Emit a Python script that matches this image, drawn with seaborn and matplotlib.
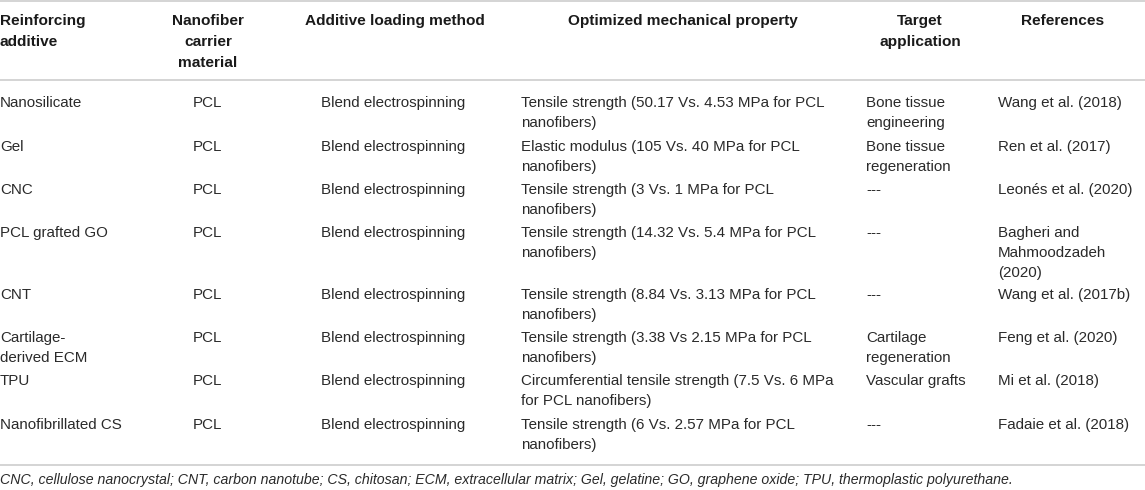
import matplotlib
matplotlib.use("Agg")
import matplotlib.pyplot as plt
import seaborn as sns

sns.set_theme(style="white")
plt.rcParams['font.family'] = ['Liberation Sans', 'DejaVu Sans']

headers = ["Reinforcing\nadditive", "Nanofiber\ncarrier\nmaterial", "Additive loading method",
           "Optimized mechanical property", "Target\napplication", "References"]

additives = ["Nanosilicate", "Gel", "CNC", "PCL grafted GO", "CNT",
             "Cartilage-\nderived ECM", "TPU", "Nanofibrillated CS"]
carriers = ["PCL"] * 8
methods = ["Blend electrospinning"] * 8
properties = [
    "Tensile strength (50.17 Vs. 4.53 MPa for PCL\nnanofibers)",
    "Elastic modulus (105 Vs. 40 MPa for PCL\nnanofibers)",
    "Tensile strength (3 Vs. 1 MPa for PCL\nnanofibers)",
    "Tensile strength (14.32 Vs. 5.4 MPa for PCL\nnanofibers)",
    "Tensile strength (8.84 Vs. 3.13 MPa for PCL\nnanofibers)",
    "Tensile strength (3.38 Vs 2.15 MPa for PCL\nnanofibers)",
    "Circumferential tensile strength (7.5 Vs. 6 MPa\nfor PCL nanofibers)",
    "Tensile strength (6 Vs. 2.57 MPa for PCL\nnanofibers)",
]
applications = ["Bone tissue\nengineering", "Bone tissue\nregeneration", "---", "---", "---",
                "Cartilage\nregeneration", "Vascular grafts", "---"]
references = ["Wang et al. (2018)", "Ren et al. (2017)", "Leonés et al. (2020)",
              "Bagheri and\nMahmoodzadeh\n(2020)", "Wang et al. (2017b)", "Feng et al. (2020)",
              "Mi et al. (2018)", "Fadaie et al. (2018)"]
footnote = ("CNC, cellulose nanocrystal; CNT, carbon nanotube; CS, chitosan; ECM, extracellular matrix; "
            "Gel, gelatine; GO, graphene oxide; TPU, thermoplastic polyurethane.")

W, H = 1145, 490
fig = plt.figure(figsize=(W / 100, H / 100), dpi=100)
ax = fig.add_axes([0, 0, 1, 1])
ax.set_xlim(0, W)
ax.set_ylim(H, 0)
ax.axis("off")

body_color = "#2a2a2a"
rule_color = "#d4d4d4"
fs = 10.9
hfs = 11.1
lh = 20

# header: (x, ha)
header_pos = [(0, "left"), (208, "center"), (395, "center"), (683, "center"), (920, "center"), (1063, "center")]
for text, (x, ha) in zip(headers, header_pos):
    for i, line in enumerate(text.split("\n")):
        ax.text(x, 21 + i * 21, line, ha=ha, va="center", fontsize=hfs, fontweight="bold", color="#1a1a1a")

ax.axhline(1.5, color=rule_color, lw=1.4)
ax.axhline(80, color=rule_color, lw=1.4)
ax.axhline(465, color=rule_color, lw=1.4)

row_y = [103, 147, 190, 233, 295, 338, 381, 425]
col_pos = [(0, "left"), (207, "center"), (393, "center"), (521, "left"), (866, "left"), (998, "left")]
columns = [additives, carriers, methods, properties, applications, references]
for col, (x, ha) in zip(columns, col_pos):
    for r, cell in enumerate(col):
        for i, line in enumerate(cell.split("\n")):
            ax.text(x, row_y[r] + i * lh, line, ha=ha, va="center", fontsize=fs, color=body_color)

ax.text(0, 480, footnote, ha="left", va="center", fontsize=10.2, style="italic", color=body_color)

fig.savefig("out.png", dpi=100)
